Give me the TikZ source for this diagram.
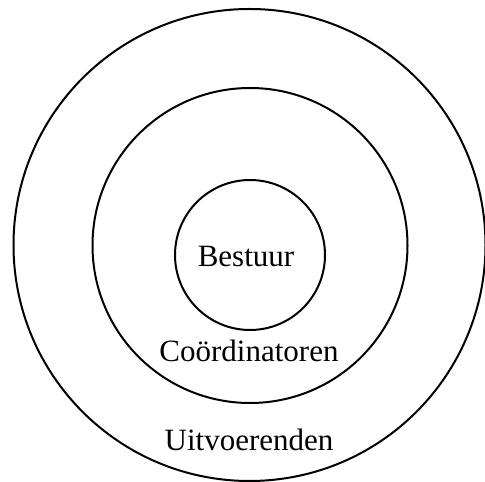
\documentclass[tikz,border=0pt]{standalone}
\usepackage{fontspec}
\setmainfont{Liberation Serif}
\begin{document}
\begin{tikzpicture}[x=1pt,y=1pt,
  ring/.style={circle, draw=black, line width=2pt, inner sep=0pt, minimum size=#1},
  lbl/.style={anchor=base, inner sep=0pt, font=\fontsize{31}{36}\selectfont}]
\useasboundingbox (0,0) rectangle (485,482);
\node[ring=472pt] (outer) at (249.5,237) {};
\node[ring=315pt] (middle) at (250,236.5) {};
\node[ring=150pt] (inner) at (250,227) {};
\node[lbl] (bestuur) at (246,215.3) {Bestuur};
\node[lbl] (coord) at (249,120.3) {Coördinatoren};
\node[lbl] (uitv) at (249,31.3) {Uitvoerenden};
\end{tikzpicture}
\end{document}
